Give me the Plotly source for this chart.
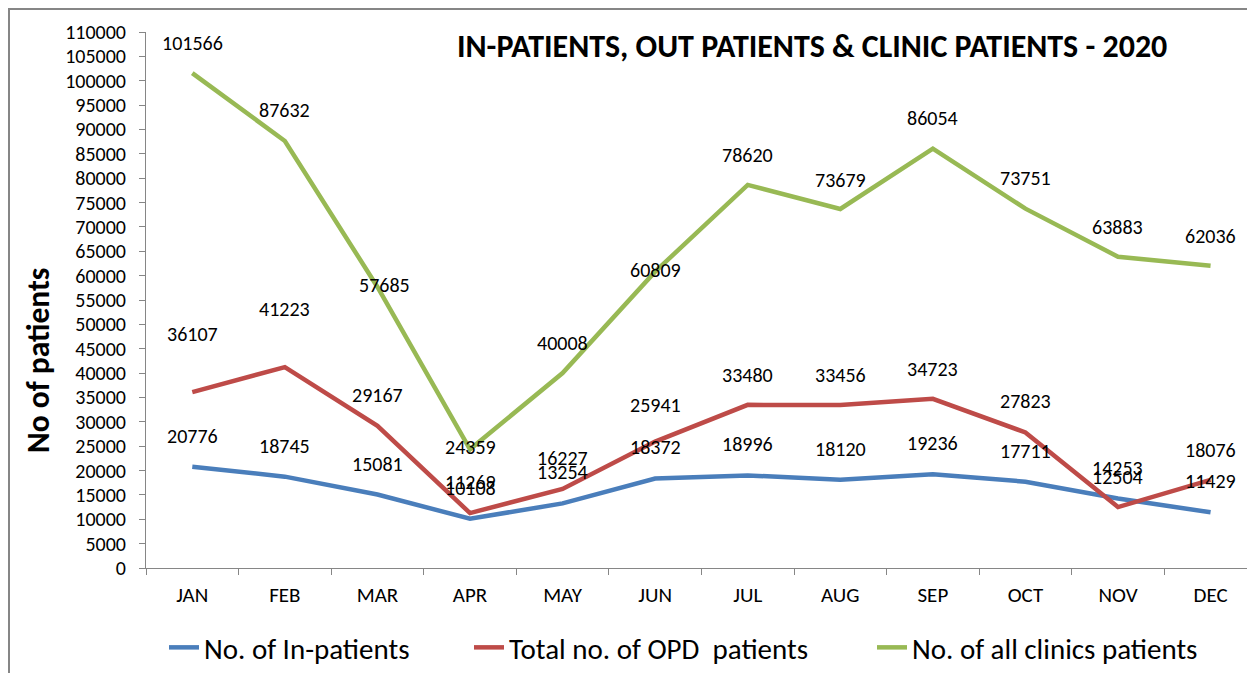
import plotly.graph_objects as go

months = ["JAN", "FEB", "MAR", "APR", "MAY", "JUN", "JUL", "AUG", "SEP", "OCT", "NOV", "DEC"]
in_patients = [20776, 18745, 15081, 10108, 13254, 18372, 18996, 18120, 19236, 17711, 14253, 11429]
opd_patients = [36107, 41223, 29167, 11269, 16227, 25941, 33480, 33456, 34723, 27823, 12504, 18076]
clinic_patients = [101566, 87632, 57685, 24359, 40008, 60809, 78620, 73679, 86054, 73751, 63883, 62036]

series_names = ["No. of In-patients", "Total no. of OPD  patients", "No. of all clinics patients"]
y_ticks = list(range(0, 110001, 5000))

# label offsets in pixels (style only)
shift_in = [31] * 12
shift_opd = [58, 58, 31, 31, 31, 37, 30, 30, 30, 31, 30, 30]
shift_clin = [30, 31, 2, 2, 30, 2, 30, 29, 31, 31, 30, 30]
xshift_clin = [0, 0, 7, 0, 0, 0, 0, 0, 0, 0, 0, 0]

colors = ["#4A7EBB", "#BE4B48", "#98B954"]
FONT = "Carlito, Calibri, Lato, sans-serif"

# the page body has an 8px margin; work in figure pixels = page pixels - 8
OFF = 8
W, H = 1247, 665
L, R_, T, B = 146 - OFF, 0, 32 - OFF, 665 - (568 - OFF)
pw = W - L - R_
ph = H - T - B

def px_x(p):
    return (p - OFF - L) / pw

def px_y(p):
    return (H - B - (p - OFF)) / ph

fig = go.Figure()
all_series = [in_patients, opd_patients, clinic_patients]
legends = ["legend", "legend2", "legend3"]
for vals, name, c, lg in zip(all_series, series_names, colors, legends):
    fig.add_trace(go.Scatter(x=months, y=vals, mode="lines", name=name, showlegend=True,
                             line=dict(color=c, width=4.5), legend=lg))

annotations = []
for vals, shifts, xs in [(in_patients, shift_in, [0] * 12),
                         (opd_patients, shift_opd, [0] * 12),
                         (clinic_patients, shift_clin, xshift_clin)]:
    for m, v, s, xsh in zip(months, vals, shifts, xs):
        annotations.append(dict(x=m, y=v, xref="x", yref="y", text=str(v), showarrow=False,
                                yshift=s, xshift=xsh, font=dict(family=FONT, size=20, color="#000")))

annotations.append(dict(x=px_x(812), y=px_y(46), xref="paper", yref="paper",
                        text="<b>IN-PATIENTS, OUT PATIENTS & CLINIC PATIENTS - 2020</b>",
                        showarrow=False, xanchor="center", yanchor="middle",
                        font=dict(family=FONT, size=32, color="#000")))
annotations.append(dict(x=px_x(38), y=px_y(361), xref="paper", yref="paper",
                        text="<b>No of patients</b>", textangle=-90,
                        showarrow=False, xanchor="center", yanchor="middle",
                        font=dict(family=FONT, size=31.5, color="#000")))

leg_common = dict(orientation="h", yanchor="middle", xanchor="left", y=px_y(648),
                  font=dict(family=FONT, size=29, color="#000"), bgcolor="rgba(0,0,0,0)")

fig.update_layout(
    width=W, height=H,
    margin=dict(l=L, r=R_, t=T, b=B),
    paper_bgcolor="white", plot_bgcolor="white",
    font=dict(family=FONT, color="#000"),
    showlegend=True,
    annotations=annotations,
    legend=dict(x=px_x(164), **leg_common),
    legend2=dict(x=px_x(469), **leg_common),
    legend3=dict(x=px_x(872), **leg_common),
    xaxis=dict(range=[-0.5, 11.48], showgrid=False, showline=True, linecolor="#868686", linewidth=1,
               ticks="outside", tickson="boundaries", ticklen=6, tickcolor="#868686",
               ticklabelstandoff=8,
               tickfont=dict(family=FONT, size=21, color="#000")),
    yaxis=dict(range=[0, 110000], tickvals=y_ticks, ticktext=[str(t) for t in y_ticks],
               showgrid=False, showline=True, linecolor="#868686", linewidth=1, zeroline=False,
               ticks="outside", ticklen=6, tickcolor="#868686",
               ticklabelstandoff=9,
               tickfont=dict(family=FONT, size=20, color="#000")),
    shapes=[dict(type="rect", xref="paper", yref="paper",
                 x0=px_x(9), x1=px_x(1300), y0=px_y(720), y1=px_y(9),
                 line=dict(color="#868686", width=2), layer="below")],
)

fig.write_html("out.html")
